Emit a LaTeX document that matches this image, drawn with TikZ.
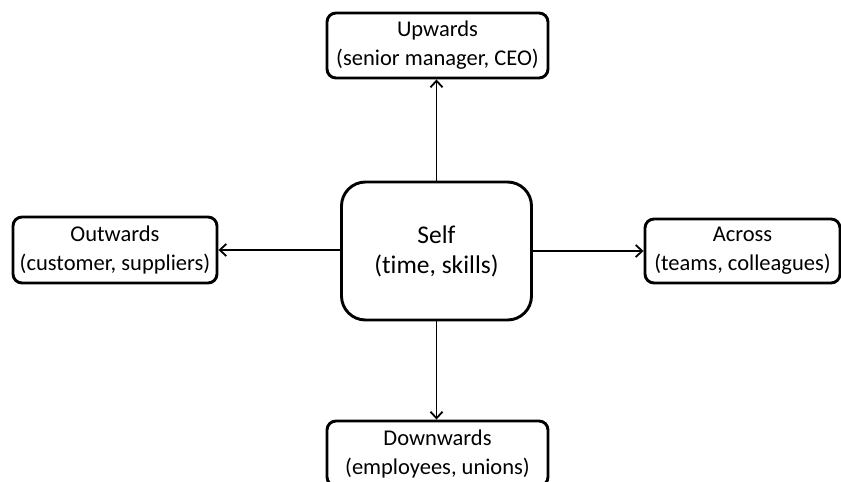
\documentclass[tikz,border=0pt]{standalone}
\usepackage{fontspec}
\setmainfont[Ligatures=NoCommon]{Carlito}
\usetikzlibrary{arrows.meta}
\begin{document}
\begin{tikzpicture}[x=1pt,y=-1pt,
  box/.style={draw, line width=2.9pt, rounded corners=9pt, fill=white,
    align=center, inner sep=0pt,
    font=\fontsize{22.5}{29}\selectfont},
  hub/.style={box, rounded corners=24pt, font=\fontsize{25.5}{30}\selectfont},
  link/.style={-{Straight Barb[length=6.5pt,width=12pt]}, line width=1.8pt}]
\useasboundingbox (0,0) rectangle (841,482);
% central node
\node[hub, minimum width=190pt, minimum height=138pt] (self) at (436.5,251)
  {Self\\(time, skills)};
% surrounding nodes
\node[box, minimum width=221pt, minimum height=65pt] (up) at (437.5,45.5)
  {Upwards\\(senior manager, CEO)};
\node[box, minimum width=204pt, minimum height=66pt] (out) at (115,250)
  {Outwards\\(customer, suppliers)};
\node[box, minimum width=195pt, minimum height=64pt] (across) at (742.5,251)
  {Across\\(teams, colleagues)};
\node[box, minimum width=221pt, minimum height=65pt] (down) at (437.5,453.5)
  {Downwards\\(employees, unions)};
% connectors
\draw[link] (self.north) -- (self.north |- up.south);
\draw[link] (self.south) -- (self.south |- down.north);
\draw[link] (self.west |- out.east) -- (out.east);
\draw[link] (self.east |- across.west) -- (across.west);
\end{tikzpicture}
\end{document}
